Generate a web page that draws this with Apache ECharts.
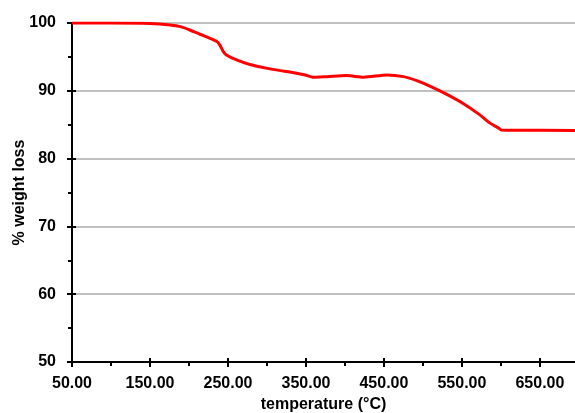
<!DOCTYPE html>
<html>
<head>
<meta charset="utf-8">
<script src="https://cdn.jsdelivr.net/npm/echarts@6/dist/echarts.min.js"></script>
<style>
  html, body { margin: 0; padding: 0; background: #fff; }
  #chart { width: 575px; height: 413px; }
</style>
</head>
<body>
<div id="chart"></div>
<script>
// temperature (°C) and % weight remaining
const temperature = [50, 99, 150, 176, 189, 201, 214, 227, 236, 240, 244, 248, 261, 278, 304, 338, 349, 359, 377, 402, 424, 454, 475, 492, 513, 530, 551, 573, 586, 597, 601, 607, 695];
const weight = [100, 100, 99.93, 99.71, 99.46, 98.97, 98.34, 97.75, 97.25, 96.66, 95.77, 95.29, 94.55, 93.89, 93.23, 92.59, 92.34, 92.0, 92.09, 92.24, 92.0, 92.34, 92.09, 91.5, 90.47, 89.5, 88.17, 86.45, 85.23, 84.5, 84.2, 84.19, 84.14];

const xMajor = [50, 150, 250, 350, 450, 550, 650];
const xMinor = [100, 200, 300, 400, 500, 600];

const font = 'Liberation Sans, Arial, sans-serif';
const xMin = 50, xMax = 695;

const chart = echarts.init(document.getElementById('chart'));

const blank = { show: false };

chart.setOption({
  animation: false,
  grid: { left: 72, right: 0, top: 23, bottom: 51, containLabel: false, outerBoundsMode: 'none' },
  xAxis: [
    {
      type: 'value', min: xMin, max: xMax, position: 'bottom',
      name: 'temperature (°C)', nameLocation: 'middle', nameGap: 35, nameMoveOverlap: false,
      nameTextStyle: { fontFamily: font, fontWeight: 'bold', fontSize: 16, color: '#000' },
      axisLine: { show: true, onZero: false, lineStyle: { color: '#000', width: 2 } },
      axisTick: { show: true, customValues: xMajor, length: 5, lineStyle: { color: '#000', width: 2 } },
      axisLabel: {
        customValues: xMajor, margin: 14,
        fontFamily: font, fontWeight: 'bold', fontSize: 16, color: '#000',
        formatter: v => v.toFixed(2)
      },
      splitLine: blank
    },
    {
      type: 'value', min: xMin, max: xMax, position: 'bottom',
      axisLine: blank, axisLabel: blank, splitLine: blank,
      axisTick: { show: true, inside: true, customValues: xMajor, length: 4, lineStyle: { color: '#000', width: 2 } }
    },
    {
      type: 'value', min: xMin, max: xMax, position: 'bottom',
      axisLine: blank, axisLabel: blank, splitLine: blank,
      axisTick: { show: true, customValues: xMinor, length: 4, lineStyle: { color: '#000', width: 2 } }
    }
  ],
  yAxis: [
    {
      type: 'value', min: 50, max: 100, interval: 10, position: 'left',
      name: '% weight loss', nameLocation: 'middle', nameGap: 44, nameRotate: 90, nameMoveOverlap: false,
      nameTextStyle: { fontFamily: font, fontWeight: 'bold', fontSize: 16, color: '#000' },
      axisLine: { show: true, onZero: false, lineStyle: { color: '#000', width: 2 } },
      axisTick: { show: true, length: 5, lineStyle: { color: '#000', width: 2 } },
      minorTick: { show: true, splitNumber: 2, length: 4, lineStyle: { color: '#000', width: 2 } },
      axisLabel: { margin: 16, fontFamily: font, fontWeight: 'bold', fontSize: 16, color: '#000' },
      splitLine: { show: true, lineStyle: { color: '#c0c0c0', width: 2 } }
    },
    {
      type: 'value', min: 50, max: 100, interval: 10, position: 'left',
      axisLine: blank, axisLabel: blank, splitLine: blank,
      axisTick: { show: true, inside: true, length: 4, lineStyle: { color: '#000', width: 2 } }
    }
  ],
  series: [{
    type: 'line',
    xAxisIndex: 0,
    yAxisIndex: 0,
    data: temperature.map((t, i) => [t, weight[i]]),
    showSymbol: false,
    smooth: 0.25,
    lineStyle: { color: '#ff0000', width: 3 },
    z: 5
  }]
});
</script>
</body>
</html>
